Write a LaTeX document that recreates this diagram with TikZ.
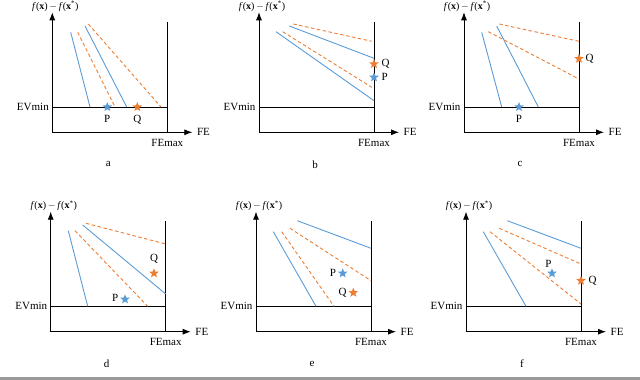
\documentclass[tikz,border=0pt]{standalone}
\usepackage{fontspec}
\setmainfont{Liberation Serif}
\usetikzlibrary{arrows.meta,positioning,shapes.geometric}

\definecolor{evblue}{RGB}{91,155,213}
\definecolor{evorange}{RGB}{237,125,49}

% axes, limits and caption of one panel (origin = axis corner)
\newcommand{\feaxes}[1]{%
    \draw[axis] (0,0) -- (140,0) node[right=1pt, font=\fontsize{11}{13}\selectfont] {FE};
    \draw[axis] (0,0) -- (0,120);
    \node at (3,126) {\textit{f}(\textbf{x})\,$-$\,\textit{f}(\textbf{x}\textsuperscript{*})};
    \draw[limit] (115,0) -- (115,110.6);
    \draw[limit] (0,25.3) -- (115,25.3);
    \node[anchor=east, font=\fontsize{11}{13}\selectfont] at (0,25.3) {EVmin};
    \node[anchor=north, font=\fontsize{11}{13}\selectfont] at (115,-3) {FEmax};
    \node[font=\fontsize{11}{13}\selectfont] at (56,-32) {#1};
}

\begin{document}
\begin{tikzpicture}[x=1pt, y=1pt,
    axis/.style={thick, black, -{Latex[length=8pt,width=6pt]}},
    limit/.style={black, line width=0.7pt},
    bline/.style={evblue, line width=0.9pt},
    oline/.style={evorange, line width=0.9pt, dash pattern=on 3.5pt off 2.5pt},
    pstar/.style={star, star points=5, star point ratio=2.3, fill=evblue, minimum size=10pt, inner sep=0pt},
    qstar/.style={star, star points=5, star point ratio=2.3, fill=evorange, minimum size=10pt, inner sep=0pt},
    every node/.style={font=\fontsize{10}{12}\selectfont}]
    \useasboundingbox (0,0) rectangle (640,380);

    % panel a
    \begin{scope}[shift={(52.3,247.7)}]
        \feaxes{a}
        \draw[bline] (18.4,100) -- (37.7,25.3);
        \draw[oline] (25.4,100) -- (62.7,25.3);
        \draw[bline] (32.7,106.3) -- (74.4,25.3);
        \draw[oline] (36,108.3) -- (108.7,25.3);
        \node[pstar] (Pa) at (55,25.3) {};
        \node[qstar] (Qa) at (85,25.3) {};
        \node[below=2pt of Pa, font=\fontsize{11}{13}\selectfont] {P};
        \node[below=2pt of Qa, font=\fontsize{11}{13}\selectfont] {Q};
    \end{scope}

    % panel b
    \begin{scope}[shift={(259,247.7)}]
        \feaxes{b}
        \draw[bline] (17,100.6) -- (115,31.6);
        \draw[oline] (23.7,100.6) -- (112.7,45);
        \draw[bline] (30.3,106.3) -- (115,74);
        \draw[oline] (34.3,108.3) -- (112.7,91);
        \node[qstar] (Qb) at (115,68.3) {};
        \node[pstar] (Pb) at (115,55) {};
        \node[right=1pt of Qb, font=\fontsize{11}{13}\selectfont] {Q};
        \node[right=1pt of Pb, font=\fontsize{11}{13}\selectfont] {P};
    \end{scope}

    % panel c
    \begin{scope}[shift={(464,247.7)}]
        \feaxes{c}
        \draw[bline] (17.7,100) -- (37.7,25.3);
        \draw[bline] (32.7,106.3) -- (74.3,25.3);
        \draw[oline] (24.3,100.6) -- (115,53.3);
        \draw[oline] (35.3,108.3) -- (115,91);
        \node[qstar] (Qc) at (115,73.6) {};
        \node[pstar] (Pc) at (55,25.3) {};
        \node[right=0pt of Qc, font=\fontsize{11}{13}\selectfont] {Q};
        \node[below=2pt of Pc, font=\fontsize{11}{13}\selectfont] {P};
    \end{scope}

    % panel d
    \begin{scope}[shift={(50.7,48.3)}]
        \feaxes{d}
        \draw[bline] (17.6,101) -- (37,25.4);
        \draw[oline] (24.3,101) -- (97,25.4);
        \draw[bline] (32,106.7) -- (115,37.7);
        \draw[oline] (35.3,108.4) -- (115,87.7);
        \node[qstar] (Qd) at (103.3,58.4) {};
        \node[pstar] (Pd) at (74.3,32.4) {};
        \node[above=1pt of Qd, font=\fontsize{11}{13}\selectfont] {Q};
        \node[left=0pt of Pd, yshift=1.5pt, font=\fontsize{11}{13}\selectfont] {P};
    \end{scope}

    % panel e
    \begin{scope}[shift={(256,48.3)}]
        \feaxes{e}
        \draw[bline] (17.3,100) -- (60,25.4);
        \draw[oline] (25.7,100) -- (78,25.4);
        \draw[oline] (34,103.4) -- (115,51);
        \draw[bline] (41.3,111) -- (115,83.4);
        \node[pstar] (Pe) at (86.7,58.4) {};
        \node[qstar] (Qe) at (97.3,39) {};
        \node[left=0pt of Pe, font=\fontsize{11}{13}\selectfont] {P};
        \node[left=0pt of Qe, font=\fontsize{11}{13}\selectfont] {Q};
    \end{scope}

    % panel f
    \begin{scope}[shift={(466,48.3)}]
        \feaxes{f}
        \draw[bline] (17.3,100) -- (60,25.4);
        \draw[oline] (24,100) -- (115,27.7);
        \draw[oline] (33.3,103.4) -- (115,67.7);
        \draw[bline] (41.3,111) -- (115,83.4);
        \node[pstar] (Pf) at (86,58.4) {};
        \node[qstar] (Qf) at (115,51) {};
        \node[above left=0pt and -5pt of Pf, font=\fontsize{11}{13}\selectfont] {P};
        \node[right=1pt of Qf, font=\fontsize{11}{13}\selectfont] {Q};
    \end{scope}

    % bottom rule
    \fill[gray!80] (0,0) rectangle (640,2.5);
\end{tikzpicture}
\end{document}
